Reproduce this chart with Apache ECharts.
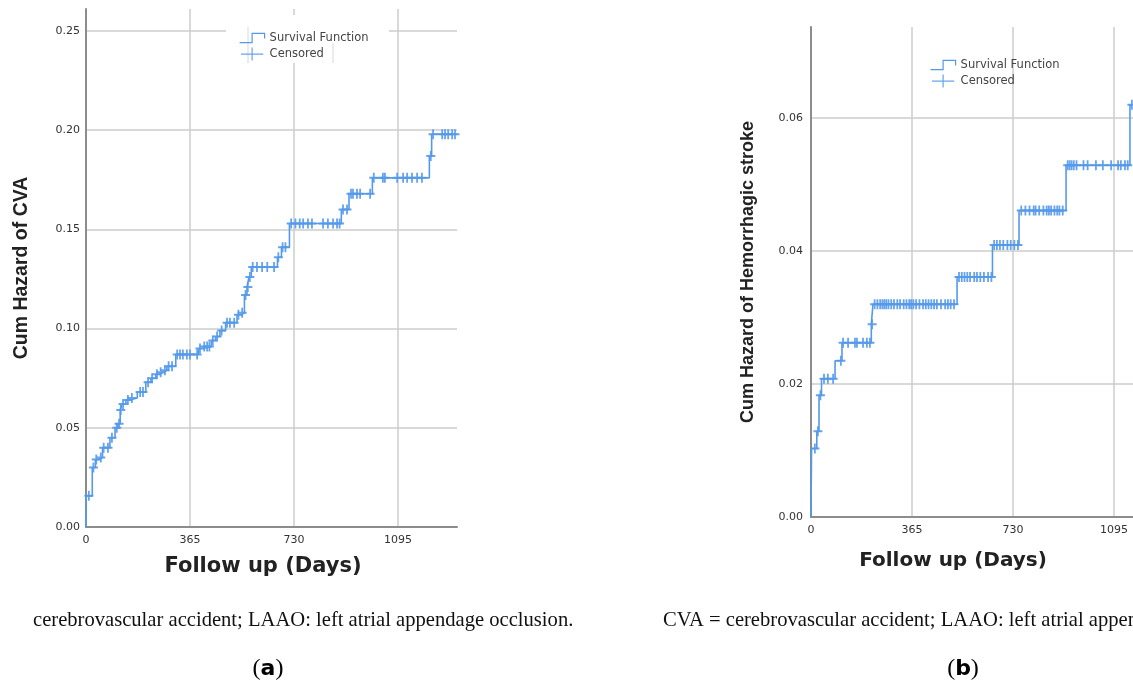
<!DOCTYPE html>
<html>
<head>
<meta charset="utf-8">
<script src="https://cdn.jsdelivr.net/npm/echarts@6/dist/echarts.min.js"></script>
<style>
html,body{margin:0;padding:0;background:#fff;}
#c{width:1133px;height:683px;}
</style>
</head>
<body>
<div id="c"></div>
<script>
// ---- Data ----
const xTicks = [0, 365, 730, 1095];
const xMaxA = 1302;   // right edge of panel (a)
const xMaxB = 1164;   // visible right edge of panel (b) (cut by the page edge)

// Panel (a): Cum Hazard of CVA — step points [day, cumulative hazard]
const stepsA = [
  [0,0],[1,0.0157],[22,0.030],[33,0.034],[45,0.035],[58,0.040],[84,0.045],[102,0.050],
  [112,0.052],[120,0.059],[126,0.062],[140,0.064],[154,0.065],[180,0.068],[210,0.073],
  [228,0.075],[245,0.077],[258,0.078],[272,0.079],[284,0.081],[315,0.087],[395,0.090],
  [410,0.091],[440,0.094],[455,0.096],[470,0.099],[490,0.103],[530,0.107],[545,0.108],
  [556,0.117],[565,0.121],[572,0.126],[580,0.131],[672,0.136],[686,0.141],[714,0.153],
  [896,0.160],[923,0.168],[1005,0.176],[1205,0.187],[1213,0.198],[1302,0.198]
];
// Panel (a): censored observations [day, cumulative hazard]
const censA = [
  [10,0.0157],[26,0.030],[36,0.034],[52,0.035],[62,0.040],[77,0.040],[91,0.045],[108,0.050],
  [116,0.052],[122,0.059],[130,0.062],[147,0.064],[161,0.065],[190,0.068],[200,0.068],
  [218,0.073],[232,0.075],[249,0.077],[262,0.078],[277,0.079],[290,0.081],[302,0.081],
  [320,0.087],[330,0.087],[340,0.087],[354,0.087],[365,0.087],[390,0.087],[400,0.090],
  [415,0.091],[425,0.091],[433,0.091],[445,0.094],[460,0.096],[476,0.099],[495,0.103],
  [505,0.103],[520,0.103],[535,0.107],[548,0.108],[560,0.117],[568,0.121],[575,0.126],
  [585,0.131],[600,0.131],[618,0.131],[636,0.131],[660,0.131],[675,0.136],[690,0.141],
  [700,0.141],[720,0.153],[735,0.153],[750,0.153],[762,0.153],[779,0.153],[793,0.153],
  [832,0.153],[849,0.153],[867,0.153],[881,0.153],[890,0.153],[902,0.160],[916,0.160],
  [930,0.168],[937,0.168],[951,0.168],[962,0.168],[997,0.168],[1010,0.176],[1042,0.176],
  [1049,0.176],[1092,0.176],[1113,0.176],[1127,0.176],[1144,0.176],[1162,0.176],[1179,0.176],
  [1210,0.187],[1218,0.198],[1250,0.198],[1260,0.198],[1271,0.198],[1285,0.198],[1295,0.198]
];

// Panel (b): Cum Hazard of Hemorrhagic stroke — step points
const stepsB = [
  [0,0],[2,0.0103],[21,0.0129],[29,0.0183],[38,0.0208],[87,0.0235],[112,0.0262],
  [218,0.029],[224,0.032],[528,0.0361],[656,0.0409],[752,0.0461],[922,0.0529],
  [1153,0.062],[1302,0.062]
];
// Panel (b): censored observations
const censB = [
  [14,0.0103],[25,0.0129],[34,0.0183],[47,0.0208],[61,0.0208],[80,0.0208],[108,0.0235],
  [116,0.0262],[134,0.0262],[159,0.0262],[166,0.0262],[188,0.0262],[202,0.0262],[213,0.0262],
  [221,0.029],
  [230,0.032],[240,0.032],[250,0.032],[258,0.032],[265,0.032],[272,0.032],[280,0.032],
  [290,0.032],[300,0.032],[312,0.032],[322,0.032],[335,0.032],[345,0.032],[355,0.032],
  [362,0.032],[370,0.032],[380,0.032],[392,0.032],[405,0.032],[415,0.032],[425,0.032],
  [435,0.032],[445,0.032],[455,0.032],[470,0.032],[485,0.032],[495,0.032],[505,0.032],[517,0.032],
  [535,0.0361],[545,0.0361],[555,0.0361],[565,0.0361],[575,0.0361],[590,0.0361],[600,0.0361],
  [612,0.0361],[625,0.0361],[640,0.0361],[652,0.0361],
  [662,0.0409],[672,0.0409],[683,0.0409],[695,0.0409],[710,0.0409],[722,0.0409],[735,0.0409],[748,0.0409],
  [760,0.0461],[775,0.0461],[790,0.0461],[805,0.0461],[812,0.0461],[825,0.0461],[840,0.0461],
  [852,0.0461],[860,0.0461],[868,0.0461],[880,0.0461],[890,0.0461],[898,0.0461],[910,0.0461],
  [928,0.0529],[935,0.0529],[942,0.0529],[950,0.0529],[960,0.0529],[985,0.0529],[1000,0.0529],
  [1030,0.0529],[1055,0.0529],[1085,0.0529],[1110,0.0529],[1120,0.0529],[1135,0.0529],[1145,0.0529],
  [1160,0.062]
];

// ---- Styling ----
const BLUE = '#5599ea';
const SANS = '"Liberation Sans", Arial, sans-serif';
const WIDE = '"DejaVu Sans", Verdana, sans-serif';
const SERIF = '"Liberation Serif", "Times New Roman", serif';
const PLUS = 'path://M4,0H6V4H10V6H6V10H4V6H0V4H4Z';

function xAxisCfg(gridIndex, max, nameSize, gap, shiftPad) {
  return {
    type: 'value', gridIndex, min: 0, max, interval: 365,
    name: 'Follow up (Days)', nameLocation: 'middle', nameGap: gap,
    nameTextStyle: { fontFamily: WIDE, fontWeight: 'bold', fontSize: nameSize, color: '#222', padding: [0, shiftPad, 0, 0] },
    axisLine: { show: true, lineStyle: { color: '#8c8c8c', width: 2 } },
    axisTick: { show: false },
    axisLabel: { color: '#333', fontFamily: WIDE, fontSize: 11, margin: 8, showMaxLabel: false,
      formatter: v => (xTicks.indexOf(v) >= 0 ? String(v) : '') },
    splitLine: { show: true, showMinLine: false, showMaxLine: false, lineStyle: { color: '#cccccc', width: 1.5 } }
  };
}
function yAxisCfg(gridIndex, name, nameSize, max, interval, gap, margin) {
  return {
    type: 'value', gridIndex, min: 0, max, interval,
    name, nameLocation: 'middle', nameGap: gap, nameRotate: 90,
    nameTextStyle: { fontFamily: SANS, fontWeight: 'bold', fontSize: nameSize, color: '#222' },
    axisLine: { show: true, lineStyle: { color: '#8c8c8c', width: 2 } },
    axisTick: { show: false },
    axisLabel: { color: '#333', fontFamily: WIDE, fontSize: 11, margin, showMaxLabel: false,
      formatter: v => v.toFixed(2) },
    splitLine: { show: true, showMinLine: false, showMaxLine: false, lineStyle: { color: '#cccccc', width: 1.5 } }
  };
}
function legendCfg(left, top) {
  return {
    orient: 'vertical', left, top, padding: 0, itemWidth: 25, itemHeight: 13, itemGap: 3,
    textStyle: { fontFamily: WIDE, fontSize: 11.5, color: '#444' },
    selectedMode: false,
    data: [
      { name: 'Survival Function', icon: 'path://M0,11H12V2H24V7',
        itemStyle: { color: 'rgba(0,0,0,0)', borderColor: BLUE, borderWidth: 1.2 } },
      { name: 'Censored', icon: 'path://M0,7H24M12,0V14',
        itemStyle: { color: 'rgba(0,0,0,0)', borderColor: BLUE, borderWidth: 1.2 } }
    ]
  };
}

const chart = echarts.init(document.getElementById('c'), null, { renderer: 'canvas' });
chart.setOption({
  backgroundColor: '#fff',
  animation: false,
  grid: [
    { left: 86, top: 9, width: 371, height: 518 },
    { left: 811, top: 27, right: 0, height: 490 }
  ],
  xAxis: [ xAxisCfg(0, xMaxA, 21, 29, 17), xAxisCfg(1, xMaxB, 20, 34, 38) ],
  yAxis: [
    yAxisCfg(0, 'Cum Hazard of CVA', 19.5, 0.2611, 0.05, 54, 6),
    yAxisCfg(1, 'Cum Hazard of Hemorrhagic stroke', 18, 0.0737, 0.02, 54, 8)
  ],
  legend: [ legendCfg(239, 32), legendCfg(930, 59) ],
  graphic: [
    { type: 'rect', z: 1, shape: { x: 226, y: 15, width: 163, height: 48 }, style: { fill: '#fff' } },
    { type: 'line', z: 2, shape: { x1: 248, y1: 27, x2: 248, y2: 63 }, style: { stroke: '#d8d8d8', lineWidth: 1 } },
    { type: 'line', z: 2, shape: { x1: 333, y1: 43, x2: 333, y2: 63 }, style: { stroke: '#d8d8d8', lineWidth: 1 } },
    { type: 'text', style: { x: 33, y: 621, text: 'cerebrovascular accident; LAAO: left atrial appendage occlusion.', font: '20.6px ' + SERIF, fill: '#111', textVerticalAlign: 'middle' } },
    { type: 'text', style: { x: 663, y: 621, text: 'CVA = cerebrovascular accident; LAAO: left atrial appendage occlusion.', font: '20.6px ' + SERIF, fill: '#111', textVerticalAlign: 'middle' } },
    { type: 'text', style: { x: 268, y: 669, textAlign: 'center', textVerticalAlign: 'middle', text: '{p|(}{b|a}{p|)}', rich: { p: { fontFamily: SERIF, fontSize: 24, color: '#111' }, b: { fontFamily: WIDE, fontWeight: 'bold', fontSize: 22, color: '#111' } } } },
    { type: 'text', style: { x: 963, y: 669, textAlign: 'center', textVerticalAlign: 'middle', text: '{p|(}{b|b}{p|)}', rich: { p: { fontFamily: SERIF, fontSize: 24, color: '#111' }, b: { fontFamily: WIDE, fontWeight: 'bold', fontSize: 22, color: '#111' } } } }
  ],
  series: [
    { name: 'Survival Function', type: 'line', xAxisIndex: 0, yAxisIndex: 0, step: 'end', data: stepsA,
      showSymbol: false, lineStyle: { color: BLUE, width: 1.6 }, itemStyle: { color: BLUE }, z: 3 },
    { name: 'Censored', type: 'scatter', xAxisIndex: 0, yAxisIndex: 0, data: censA,
      symbol: PLUS, symbolSize: [9, 10], itemStyle: { color: BLUE, opacity: 0.9 }, z: 4 },
    { name: 'Survival Function', type: 'line', xAxisIndex: 1, yAxisIndex: 1, step: 'end', data: stepsB,
      showSymbol: false, lineStyle: { color: BLUE, width: 1.6 }, itemStyle: { color: BLUE }, z: 3 },
    { name: 'Censored', type: 'scatter', xAxisIndex: 1, yAxisIndex: 1, data: censB,
      symbol: PLUS, symbolSize: [9, 10], itemStyle: { color: BLUE, opacity: 0.9 }, z: 4 }
  ]
});
</script>
</body>
</html>
